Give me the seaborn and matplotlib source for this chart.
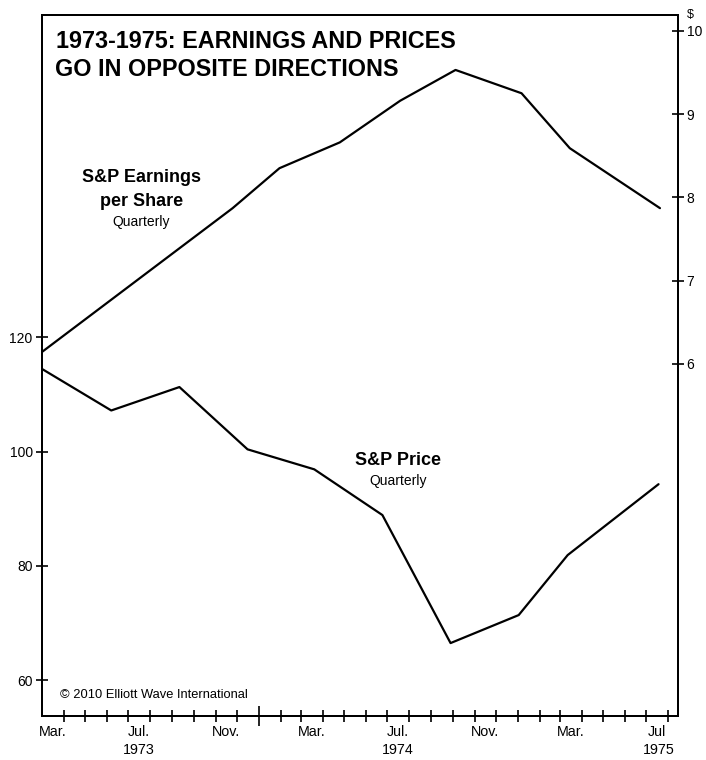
import matplotlib
matplotlib.use("Agg")
import matplotlib.pyplot as plt
import matplotlib.transforms as mtransforms
import matplotlib.dates as mdates
import matplotlib.ticker as mticker
import seaborn as sns
import pandas as pd

# ---- data ----
price_dates = ["1973-03-01", "1973-06-07", "1973-09-11", "1973-12-16", "1974-03-20",
               "1974-06-24", "1974-09-28", "1975-01-02", "1975-03-12", "1975-07-18"]
price_values = [114.5, 107.2, 111.3, 100.4, 96.9, 88.9, 66.5, 71.4, 81.9, 94.3]

eps_dates = ["1973-03-01", "1973-11-25", "1974-01-30", "1974-04-25", "1974-07-19",
             "1974-10-05", "1975-01-06", "1975-03-15", "1975-07-20"]
eps_values = [6.14, 7.87, 8.35, 8.66, 9.16, 9.53, 9.25, 8.59, 7.87]

left_ticks = [60, 80, 100, 120]
right_ticks = [6, 7, 8, 9, 10]
month_labels = ["Mar.", "Jul.", "Nov.", "Mar.", "Jul.", "Nov.", "Mar.", "Jul"]
month_label_dates = ["1973-03-16", "1973-07-16", "1973-11-16", "1974-03-16",
                     "1974-07-16", "1974-11-16", "1975-03-16", "1975-07-16"]
year_labels = ["1973", "1974", "1975"]
year_label_dates = ["1973-07-16", "1974-07-16", "1975-07-19"]

price_df = pd.DataFrame({"date": pd.to_datetime(price_dates), "price": price_values})
eps_df = pd.DataFrame({"date": pd.to_datetime(eps_dates), "eps": eps_values})

sns.set_theme(style="white")
plt.rcParams["font.family"] = ["Liberation Sans", "DejaVu Sans"]
plt.rcParams["text.color"] = "black"
plt.rcParams["xtick.color"] = "black"
plt.rcParams["ytick.color"] = "black"
plt.rcParams["axes.labelcolor"] = "black"

fig = plt.figure(figsize=(7.06, 7.6), dpi=100)
ax = fig.add_axes([41.7 / 706, 1 - 716 / 760, 636 / 706, 701 / 760])
ax2 = ax.twinx()

sns.lineplot(data=price_df, x="date", y="price", ax=ax, color="black", linewidth=1.6)
sns.lineplot(data=eps_df, x="date", y="eps", ax=ax2, color="black", linewidth=1.6)

xmin = pd.Timestamp("1973-03-01")
xmax = pd.Timestamp("1975-08-14")
ax.set_xlim(xmin, xmax)
ax.set_ylim(53.74, 176.4)
ax2.set_ylim(1.77, 10.19)

for a in (ax, ax2):
    a.set_xlabel("")
    a.set_ylabel("")
    for s in a.spines.values():
        s.set_color("black")
        s.set_linewidth(1.4)

# y ticks
ax.set_yticks(left_ticks)
ax.set_yticklabels([str(v) for v in left_ticks])
ax.tick_params(axis="y", direction="inout", length=9, width=1.2, colors="black",
               labelsize=10, pad=2, left=True)
ax2.set_yticks(right_ticks)
ax2.set_yticklabels([str(v) for v in right_ticks])
ax2.tick_params(axis="y", direction="inout", length=9, width=1.2, colors="black",
                labelsize=10, pad=2, right=True)

# x ticks: month boundaries (minor), start of 1974 (major, long)
month_starts = pd.date_range("1973-04-01", "1975-08-01", freq="MS")
long_ticks = [pd.Timestamp("1974-01-01")]
other = [d for d in month_starts if d not in long_ticks]
ax.xaxis.set_major_locator(mticker.FixedLocator(mdates.date2num(long_ticks)))
ax.xaxis.set_minor_locator(mticker.FixedLocator(mdates.date2num(other)))
ax.xaxis.set_major_formatter(mticker.NullFormatter())
ax.xaxis.set_minor_formatter(mticker.NullFormatter())
ax.tick_params(axis="x", which="major", direction="inout", length=15, width=1.2,
               colors="black", bottom=True)
ax.tick_params(axis="x", which="minor", direction="inout", length=8, width=1.2,
               colors="black", bottom=True)

trans = mtransforms.blended_transform_factory(ax.transData, ax.transAxes)
for lab, d in zip(month_labels, month_label_dates):
    ax.text(mdates.date2num(pd.Timestamp(d)), -15.7 / 701, lab, transform=trans,
            ha="center", va="center", fontsize=10.3, color="black")
for lab, d in zip(year_labels, year_label_dates):
    ax.text(mdates.date2num(pd.Timestamp(d)), -34 / 701, lab, transform=trans,
            ha="center", va="center", fontsize=10.3, color="black")

# titles / annotations
ax.text((56 - 41.7) / 636, (716 - 42) / 701, "1973-1975: EARNINGS AND PRICES",
        transform=ax.transAxes, ha="left", va="center", fontsize=16.8, fontweight="bold")
ax.text((55 - 41.7) / 636, (716 - 69) / 701, "GO IN OPPOSITE DIRECTIONS",
        transform=ax.transAxes, ha="left", va="center", fontsize=16.8, fontweight="bold")

ax.text(0.157, (716 - 178) / 701, "S&P Earnings", transform=ax.transAxes,
        ha="center", va="center", fontsize=13, fontweight="bold")
ax.text(0.157, (716 - 201.7) / 701, "per Share", transform=ax.transAxes,
        ha="center", va="center", fontsize=13, fontweight="bold")
ax.text(0.157, (716 - 221.7) / 701, "Quarterly", transform=ax.transAxes,
        ha="center", va="center", fontsize=10)

ax.text(0.560, (716 - 460.7) / 701, "S&P Price", transform=ax.transAxes,
        ha="center", va="center", fontsize=13, fontweight="bold")
ax.text(0.560, (716 - 481) / 701, "Quarterly", transform=ax.transAxes,
        ha="center", va="center", fontsize=10)

ax.text(0.0288, (716 - 695) / 701, "\u00a9 2010 Elliott Wave International",
        transform=ax.transAxes, ha="left", va="center", fontsize=9.3)

ax.text((690 - 41.7) / 636, (716 - 15) / 701, "$", transform=ax.transAxes,
        ha="center", va="center", fontsize=9)

fig.savefig("out.png", dpi=100)
